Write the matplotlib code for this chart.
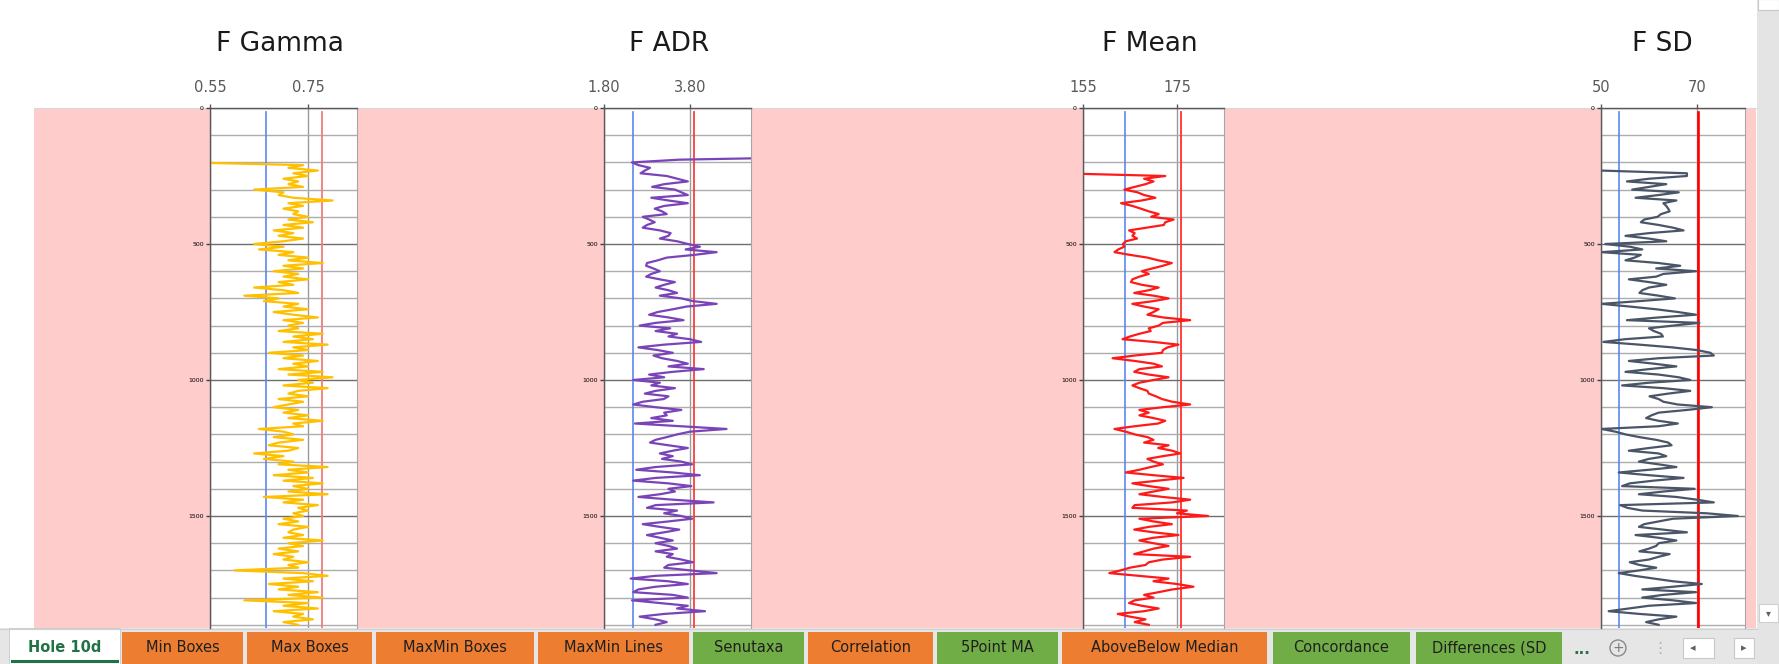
import matplotlib
matplotlib.use('Agg')
import matplotlib.pyplot as plt
from matplotlib.patches import Rectangle, Circle
from matplotlib.ticker import MultipleLocator
import numpy as np

W, H = 1779, 664

# log samples, one every 10 depth units
gamma_depth = np.arange(200, 1901, 10)
gamma = [
    0.50, 0.74, 0.71, 0.77, 0.72, 0.75, 0.70, 0.73, 0.71, 0.74,
    0.64, 0.70, 0.69, 0.72, 0.80, 0.71, 0.74, 0.70, 0.73, 0.72,
    0.75, 0.71, 0.76, 0.70, 0.74, 0.68, 0.72, 0.69, 0.74, 0.70,
    0.64, 0.70, 0.65, 0.72, 0.69, 0.75, 0.71, 0.78, 0.70, 0.74,
    0.68, 0.73, 0.70, 0.75, 0.69, 0.72, 0.64, 0.70, 0.73, 0.62,
    0.69, 0.66, 0.73, 0.70, 0.75, 0.68, 0.72, 0.77, 0.70, 0.74,
    0.71, 0.73, 0.69, 0.78, 0.72, 0.76, 0.70, 0.79, 0.72, 0.75,
    0.67, 0.74, 0.70, 0.77, 0.72, 0.75, 0.69, 0.78, 0.71, 0.80,
    0.73, 0.76, 0.70, 0.79, 0.73, 0.71, 0.75, 0.69, 0.74, 0.71,
    0.68, 0.73, 0.70, 0.75, 0.71, 0.78, 0.72, 0.74, 0.65, 0.70,
    0.72, 0.68, 0.74, 0.69, 0.67, 0.73, 0.71, 0.64, 0.70, 0.66,
    0.72, 0.69, 0.79, 0.71, 0.75, 0.68, 0.76, 0.70, 0.78, 0.72,
    0.75, 0.71, 0.79, 0.66, 0.74, 0.70, 0.77, 0.73, 0.75, 0.72,
    0.74, 0.70, 0.73, 0.69, 0.75, 0.72, 0.71, 0.74, 0.70, 0.78,
    0.71, 0.74, 0.69, 0.73, 0.68, 0.72, 0.70, 0.75, 0.71, 0.73,
    0.60, 0.74, 0.79, 0.70, 0.76, 0.67, 0.73, 0.69, 0.77, 0.71,
    0.78, 0.62, 0.75, 0.70, 0.77, 0.68, 0.74, 0.72, 0.76, 0.70,
    0.73,
]

adr_depth = np.arange(180, 1901, 10)
adr = [
    7.00, 3.55,
    2.45, 2.60, 2.87, 2.75, 2.65, 3.26, 3.50, 3.75, 3.20, 2.92,
    3.45, 3.60, 3.75, 2.90, 3.30, 3.75, 3.20, 2.98, 3.15, 3.26,
    2.70, 2.85, 2.98, 2.80, 2.70, 3.10, 3.35, 3.30, 3.10, 3.50,
    3.75, 4.03, 3.70, 4.42, 3.90, 3.26, 3.05, 2.80, 2.78, 2.95,
    3.10, 2.90, 2.78, 3.10, 3.45, 3.20, 3.00, 3.30, 3.50, 3.10,
    3.60, 3.87, 4.42, 3.72, 3.40, 3.05, 2.85, 3.30, 3.65, 3.00,
    2.63, 3.34, 3.00, 3.50, 3.30, 3.80, 4.06, 3.20, 2.60, 3.05,
    3.40, 2.95, 3.15, 3.50, 3.75, 3.30, 4.12, 3.40, 2.85, 3.20,
    2.48, 3.10, 2.90, 3.45, 3.00, 2.75, 3.30, 3.19, 2.70, 2.48,
    3.00, 3.60, 3.20, 3.26, 2.90, 3.40, 2.52, 3.60, 4.65, 3.80,
    3.50, 3.26, 3.00, 2.87, 3.30, 3.75, 3.40, 3.10, 3.40, 3.15,
    3.60, 3.85, 3.00, 2.55, 3.40, 4.03, 3.00, 2.48, 3.30, 3.83,
    3.30, 3.45, 3.10, 2.60, 3.40, 4.35, 3.00, 2.80, 3.50, 3.20,
    3.60, 3.85, 3.30, 2.70, 3.10, 3.55, 3.20, 2.80, 3.10, 3.40,
    3.00, 3.30, 3.50, 3.00, 3.40, 3.26, 3.60, 3.87, 3.30, 3.20,
    3.80, 4.42, 3.00, 2.42, 3.30, 3.75, 3.00, 2.60, 2.48, 3.40,
    3.75, 2.45, 3.10, 3.75, 3.50, 4.15, 3.20, 2.63, 3.00, 3.26,
    3.00,
]

mean_depth = np.arange(240, 1901, 10)
mean = [
    150.0,
    172.5, 168.0, 170.0, 168.3, 166.0, 163.8,
    166.6, 168.0, 170.4, 167.5, 163.1, 165.5, 167.3, 169.0, 171.1,
    169.5, 174.3, 172.5, 172.2, 168.5, 164.8, 166.0, 165.5, 166.5, 164.1,
    163.5, 163.8, 162.5, 161.7, 165.0, 168.7, 171.0, 173.9, 172.0, 169.7,
    167.5, 169.0, 167.0, 165.5, 165.2, 167.5, 171.1, 169.0, 165.9, 170.0,
    173.2, 170.0, 165.5, 168.0, 171.1, 170.0, 168.7, 172.0, 177.8, 172.0,
    171.1, 169.0, 169.4, 167.0, 165.0, 163.4, 170.0, 175.3, 173.0, 172.0,
    171.8, 166.0, 161.3, 166.0, 170.0, 171.8, 167.0, 165.9, 169.0, 173.2,
    170.0, 167.0, 165.5, 167.0, 168.7, 169.0, 170.5, 171.8, 174.0, 177.8,
    172.0, 167.0, 169.0, 167.0, 170.0, 172.5, 171.0, 166.0, 161.7, 164.1,
    166.0, 168.7, 170.0, 168.0, 173.2, 171.0, 174.0, 175.7, 172.0, 168.7,
    170.0, 172.0, 169.4, 167.0, 164.1, 170.0, 176.4, 171.0, 165.5, 169.0,
    173.2, 170.0, 167.0, 172.0, 177.8, 174.0, 166.0, 165.5, 177.1, 175.0,
    181.6, 167.0, 170.0, 173.9, 169.0, 165.9, 170.0, 175.3, 170.0, 167.0,
    170.0, 173.2, 170.0, 168.0, 165.9, 177.8, 172.0, 169.0, 168.3, 165.0,
    163.0, 160.6, 167.0, 173.2, 170.0, 175.0, 178.5, 174.0, 171.1, 168.0,
    170.0, 166.0, 164.8, 167.5, 171.1, 168.0, 162.4, 165.0, 168.3, 166.0,
    169.0,
]

sd_depth = np.arange(230, 1901, 10)
sd = [
    50.0,
    67.9, 67.9, 60.0, 55.4, 63.6, 60.0, 56.5,
    66.2, 62.0, 57.2, 65.7, 63.0, 63.6, 64.0, 64.3, 62.5, 61.8,
    59.0, 58.3, 62.0, 65.0, 67.2, 60.0, 55.1, 60.0, 63.6, 50.9,
    56.0, 58.6, 50.1, 58.3, 57.0, 55.1, 62.0, 66.5, 61.5, 69.8,
    63.0, 61.5, 55.8, 60.0, 63.6, 60.0, 58.6, 58.0, 62.0, 65.4,
    58.0, 50.1, 56.0, 61.5, 66.0, 69.8, 62.0, 55.4, 70.5, 65.0,
    60.0, 61.0, 62.5, 62.9, 55.0, 50.5, 58.0, 64.8, 70.0, 72.8,
    73.5, 62.0, 55.8, 61.0, 65.7, 60.0, 55.1, 62.0, 66.2, 68.6,
    60.0, 54.4, 63.0, 68.6, 64.0, 60.1, 62.0, 63.0, 66.0, 73.1,
    68.0, 62.0, 60.5, 59.4, 62.0, 66.0, 62.0, 50.1, 53.0, 55.1,
    58.0, 61.5, 64.0, 64.7, 60.0, 55.8, 62.0, 63.6, 60.0, 57.9,
    62.0, 65.7, 60.0, 53.7, 60.0, 67.2, 61.0, 56.0, 54.4, 69.5,
    63.0, 57.9, 65.7, 70.0, 73.5, 54.0, 55.5, 58.6, 72.0, 78.5,
    65.0, 62.0, 59.0, 57.9, 63.0, 67.9, 57.2, 62.0, 65.7, 62.0,
    61.5, 60.0, 58.0, 64.3, 62.0, 60.0, 56.0, 58.0, 61.5, 58.0,
    53.7, 57.0, 61.0, 65.0, 71.0, 65.0, 58.6, 69.8, 63.0, 58.6,
    65.0, 69.8, 60.0, 55.8, 51.6, 58.0, 65.7, 62.0, 59.4, 62.0,
]

titles = ['F Gamma', 'F ADR', 'F Mean', 'F SD']
x_limits = [(0.55, 0.85), (1.80, 5.22), (155, 185), (50, 80)]
x_ticks = [[0.55, 0.75], [1.80, 3.80], [155, 175], [50, 70]]
x_ticklabels = [['0.55', '0.75'], ['1.80', '3.80'], ['155', '175'], ['50', '70']]
low_cut = [0.664, 2.47, 164.0, 53.7]
high_cut = [0.779, 3.90, 175.8, 70.2]

sheet_tabs = ['Hole 10d', 'Min Boxes', 'Max Boxes', 'MaxMin Boxes', 'MaxMin Lines',
              'Senutaxa', 'Correlation', '5Point MA', 'AboveBelow Median',
              'Concordance', 'Differences (SD']
tab_kind = ['active', 'o', 'o', 'o', 'o', 'g', 'o', 'g', 'o', 'g', 'g']

# screen layout in pixels
panel_px = [(210, 357), (604, 751), (1083, 1224), (1601, 1745)]
title_x = [280, 669, 1150, 1662]
tab_px = [(9, 120), (122, 243), (247, 372), (376, 534), (538, 689), (693, 804),
          (808, 933), (937, 1058), (1062, 1267), (1273, 1410), (1416, 1562)]
top, bottom = 108, 628
depth_bottom = (bottom - top) / 0.272

series = [(gamma_depth, gamma, '#FFC000', '#F27C7C', 1.3),
          (adr_depth, adr, '#7A44B8', '#FF3B3B', 1.3),
          (mean_depth, mean, '#FF1A1A', '#FF3030', 1.3),
          (sd_depth, sd, '#4A5568', '#FF0000', 1.9)]

fig = plt.figure(figsize=(W / 100, H / 100), dpi=100)

bg = fig.add_axes([0, 0, 1, 1], zorder=0)
bg.set_xlim(0, W)
bg.set_ylim(H, 0)
bg.axis('off')
bg.add_patch(Rectangle((34, top), 1756 - 34, bottom - top, fc='#FFCCCC', ec='none'))
bg.plot([34, 1756], [top, top], color='#D9D9D9', lw=0.8)

# vertical scroll bar
bg.add_patch(Rectangle((1757, 0), 22, H, fc='#E4E4E4', ec='none'))
bg.add_patch(Rectangle((1758, -1), 21, 11, fc='white', ec='#C8C8C8', lw=0.8))
bg.add_patch(Rectangle((1759, 604), 19, 18, fc='white', ec='#D0D0D0', lw=0.8))
bg.text(1768.5, 613, '▾', ha='center', va='center', fontsize=7, color='#606060')

for i in range(4):
    l, r = panel_px[i]
    ax = fig.add_axes([l / W, (H - bottom) / H, (r - l) / W, (bottom - top) / H], zorder=2)
    ax.set_facecolor('white')
    depth, vals, col, redcol, redlw = series[i]

    ax.set_xlim(*x_limits[i])
    ax.set_ylim(depth_bottom, 0)
    ax.xaxis.tick_top()
    ax.set_xticks(x_ticks[i])
    ax.set_xticklabels(x_ticklabels[i])
    ax.yaxis.set_major_locator(MultipleLocator(500))
    ax.yaxis.set_minor_locator(MultipleLocator(100))

    ax.grid(which='minor', axis='y', color='#ADADAD', lw=1.0)
    ax.grid(which='major', axis='y', color='#6E6E6E', lw=1.0)
    ax.grid(which='major', axis='x', color='#9A9A9A', lw=1.0)
    ax.set_axisbelow(True)

    ax.tick_params(axis='x', top=True, bottom=False, labeltop=True, labelbottom=False,
                   length=3, width=1, color='#595959', labelsize=10.5,
                   labelcolor='#595959', pad=6)
    ax.tick_params(axis='y', which='major', length=3, width=1, color='#404040',
                   labelsize=4.5, labelcolor='black', pad=1.5)
    ax.tick_params(axis='y', which='minor', length=0)

    for side in ('top', 'left'):
        ax.spines[side].set_color('#595959')
        ax.spines[side].set_linewidth(1.0)
    ax.spines['right'].set_color('#A6A6A6')
    ax.spines['bottom'].set_visible(False)

    ax.plot([low_cut[i], low_cut[i]], [15, depth_bottom], color='#5E86F0', lw=1.2)
    ax.plot([high_cut[i], high_cut[i]], [15, depth_bottom], color=redcol, lw=redlw)
    ax.plot(vals, depth, color=col, lw=1.6, solid_joinstyle='round')

    fig.text(title_x[i] / W, 1 - 51 / H, titles[i], ha='center', va='baseline',
             fontsize=19, color='#1A1A1A')

# sheet tab strip
bg.add_patch(Rectangle((0, bottom), 1757, H - bottom, fc='#E6E6E6', ec='none'))
bg.plot([0, 1757], [bottom + 0.5, bottom + 0.5], color='#D0D0D0', lw=0.8)
tab_fill = {'o': '#ED7D31', 'g': '#70AD47'}
for name, kind, (x0, x1) in zip(sheet_tabs, tab_kind, tab_px):
    if kind == 'active':
        bg.add_patch(Rectangle((x0, bottom), x1 - x0, H - bottom, fc='white', ec='#C8C8C8', lw=0.6))
        bg.plot([x0 + 3, x1 - 3], [661, 661], color='#217346', lw=2.2)
        bg.text((x0 + x1) / 2, 648, name, ha='center', va='center', fontsize=10.5,
                color='#217346', fontweight='bold')
    else:
        bg.add_patch(Rectangle((x0, 632), x1 - x0, H - 632, fc=tab_fill[kind], ec='none'))
        t = bg.text((x0 + x1) / 2, 648, name, ha='center', va='center', fontsize=10.5,
                    color='#1F1F1F')
        t.set_clip_path(Rectangle((x0, 632), x1 - x0, H - 632, transform=bg.transData))

bg.text(1582, 650, '...', ha='center', va='center', fontsize=11, color='#217346',
        fontweight='bold')
bg.add_patch(Circle((1618, 648), 8, fc='none', ec='#8A8A8A', lw=1.0))
bg.text(1618, 648, '+', ha='center', va='center', fontsize=10, color='#7A7A7A')
bg.text(1660, 648, '⋮', ha='center', va='center', fontsize=11, color='#B0B0B0')
bg.add_patch(Rectangle((1683, 638), 31, 20, fc='white', ec='#C8C8C8', lw=0.8))
bg.text(1693, 648, '◂', ha='center', va='center', fontsize=8, color='#606060')
bg.add_patch(Rectangle((1734, 638), 20, 20, fc='white', ec='#C8C8C8', lw=0.8))
bg.text(1744, 648, '▸', ha='center', va='center', fontsize=8, color='#606060')

fig.savefig('out.png', dpi=100)
